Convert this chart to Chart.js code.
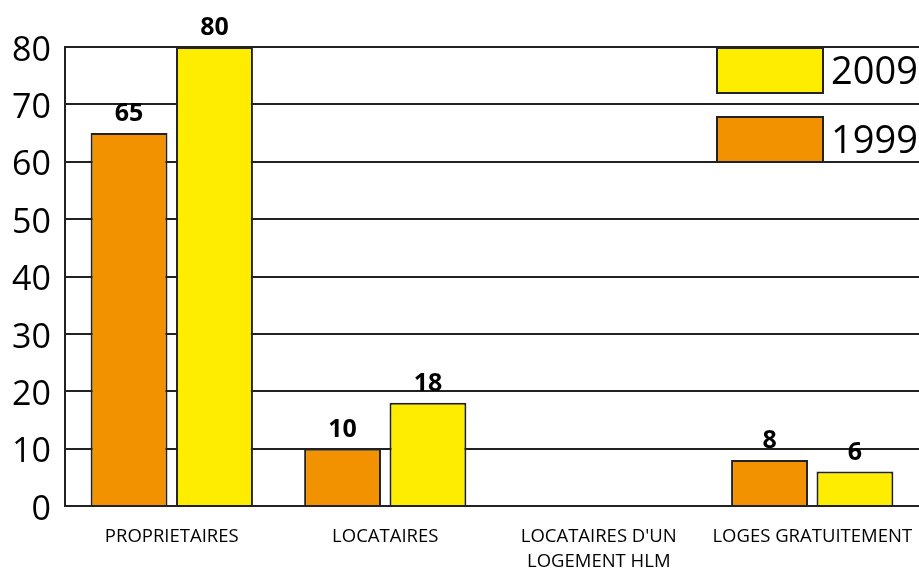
<!DOCTYPE html>
<html>
<head>
<meta charset="utf-8">
<script src="https://cdn.jsdelivr.net/npm/chart.js@4"></script>
<style>
  html, body { margin: 0; padding: 0; background: #fff; }
  #wrap { width: 919px; height: 569px; position: relative; }
</style>
</head>
<body>
<div id="wrap"><canvas id="c"></canvas></div>
<script>
const categories = ['PROPRIETAIRES', 'LOCATAIRES', ["LOCATAIRES D'UN", 'LOGEMENT HLM'], 'LOGES GRATUITEMENT'];
const seriesNames = ['1999', '2009'];
const values1999 = [65, 10, 0, 8];
const values2009 = [80, 18, 0, 6];
const yTicks = [0, 10, 20, 30, 40, 50, 60, 70, 80];

const ORANGE = '#F39200';
const YELLOW = '#FFED00';
const INK = '#222222';
const FONT = "'Open Sans', 'Noto Sans', sans-serif";

const valueLabels = {
  id: 'valueLabels',
  afterDatasetsDraw(chart) {
    const ctx = chart.ctx;
    ctx.save();
    ctx.font = 'bold 25px ' + FONT;
    ctx.fillStyle = '#000';
    ctx.textAlign = 'center';
    ctx.textBaseline = 'alphabetic';
    chart.data.datasets.forEach((ds, i) => {
      const meta = chart.getDatasetMeta(i);
      meta.data.forEach((bar, j) => {
        const v = ds.data[j];
        if (!v) return;
        ctx.fillText(String(v), bar.x, bar.y - 12);
      });
    });
    ctx.restore();
  }
};

const boxLegend = {
  id: 'boxLegend',
  afterDraw(chart) {
    const ctx = chart.ctx;
    const area = chart.chartArea;
    const order = [1, 0];
    const bx = area.right - 202, bw = 106, bh = 45;
    ctx.save();
    order.forEach((di, k) => {
      const ds = chart.data.datasets[di];
      const by = area.top + 1 + k * 69;
      ctx.fillStyle = ds.backgroundColor;
      ctx.fillRect(bx, by, bw, bh);
      ctx.strokeStyle = INK;
      ctx.lineWidth = 2;
      ctx.strokeRect(bx, by, bw, bh);
      ctx.fillStyle = '#000';
      ctx.font = '38px ' + FONT;
      ctx.textAlign = 'left';
      ctx.textBaseline = 'middle';
      ctx.fillText(ds.label, bx + 114, by + bh / 2 + 3);
    });
    ctx.restore();
  }
};

new Chart(document.getElementById('c'), {
  type: 'bar',
  data: {
    labels: categories,
    datasets: [
      { label: seriesNames[0], data: values1999, backgroundColor: ORANGE, borderColor: INK, borderWidth: 2 },
      { label: seriesNames[1], data: values2009, backgroundColor: YELLOW, borderColor: INK, borderWidth: 2 }
    ]
  },
  options: {
    responsive: true,
    maintainAspectRatio: false,
    animation: false,
    layout: { padding: { top: 47, right: 0, left: 0, bottom: 0 } },
    plugins: {
      legend: { display: false },
      tooltip: { enabled: false }
    },
    scales: {
      x: {
        grid: { display: false, drawTicks: false },
        border: { display: false },
        ticks: {
          color: '#000',
          font: { family: FONT, size: 18.5, lineHeight: 1.35 },
          padding: 18,
          maxRotation: 0,
          autoSkip: false
        },
        afterFit(scale) {
          scale.height = 63;
          scale.paddingLeft = 0;
          scale.paddingRight = 0;
        }
      },
      y: {
        min: 0,
        max: 80,
        afterBuildTicks(scale) { scale.ticks = yTicks.map(v => ({ value: v })); },
        grid: { color: INK, lineWidth: 2, drawTicks: false },
        border: { display: true, color: INK, width: 2 },
        ticks: {
          color: '#000',
          font: { family: FONT, size: 34 },
          padding: 14,
          labelOffset: 4
        },
        afterFit(scale) {
          scale.width = 65;
          scale.paddingTop = 0;
          scale.paddingBottom = 0;
        }
      }
    }
  },
  plugins: [valueLabels, boxLegend]
});
</script>
</body>
</html>
